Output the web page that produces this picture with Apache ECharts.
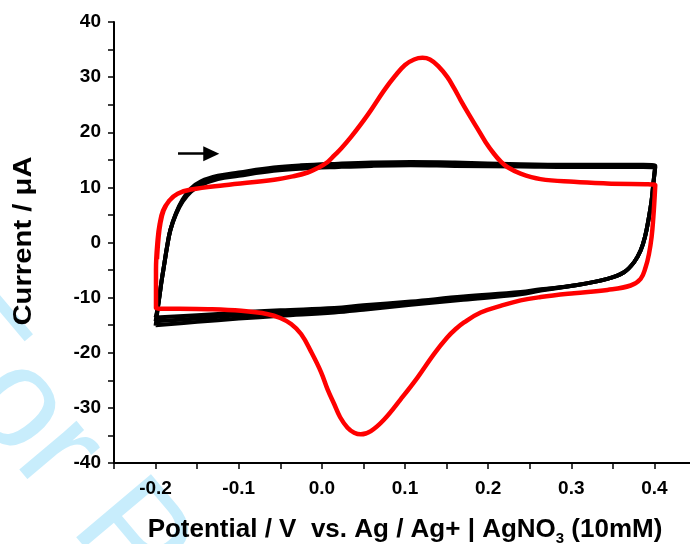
<!DOCTYPE html>
<html style="height: 100%">
<head>
<meta charset="utf-8">
</head>
<body style="height: 100%; margin: 0; background: #fff">
<div id="container" style="width: 690px; height: 544px"></div>
<script src="https://cdn.jsdelivr.net/npm/echarts@6/dist/echarts.min.js"></script>
<script>
// potential (V) / current (uA) pairs
var blackCycle1 = [
  [-0.2, -13.6], [-0.198, -12.3], [-0.1955, -9.9], [-0.1927, -6.9], [-0.1895, -3.9],
  [-0.1863, -0.9], [-0.1823, 2.2], [-0.1755, 5.3], [-0.1675, 7.8], [-0.1575, 9.8],
  [-0.1454, 11.1], [-0.125, 12.1], [-0.1, 12.7], [-0.058, 13.6], [-0.025, 14.0],
  [0.02, 14.3], [0.06, 14.5], [0.107, 14.6], [0.16, 14.5], [0.239, 14.2], [0.3, 14.1],
  [0.36, 14.1], [0.401, 14.0], [0.3987, 10.7], [0.3966, 7.6], [0.3934, 4.6], [0.3886, 1.0],
  [0.3834, -1.45], [0.3754, -3.6], [0.3634, -5.4], [0.3434, -6.6], [0.3033, -7.8],
  [0.2632, -8.5], [0.239, -9.0], [0.17, -9.8], [0.107, -10.7], [0.05, -11.4],
  [0.015, -11.9], [-0.05, -12.3], [-0.1, -12.7], [-0.15, -13.2], [-0.2, -13.6]
];
var blackCycle2 = [
  [-0.2, -14.3], [-0.198, -12.5], [-0.1955, -9.9], [-0.1927, -6.9], [-0.1895, -3.9],
  [-0.1863, -0.9], [-0.1823, 2.2], [-0.1755, 5.2], [-0.1675, 7.6], [-0.1575, 9.5],
  [-0.1454, 10.7], [-0.125, 11.8], [-0.1, 12.4], [-0.058, 13.3], [-0.025, 13.7],
  [0.02, 14.0], [0.06, 14.2], [0.107, 14.3], [0.16, 14.2], [0.239, 14.0], [0.3, 13.9],
  [0.36, 13.9], [0.401, 13.8], [0.3987, 10.7], [0.3966, 7.6], [0.3934, 4.6], [0.3886, 1.0],
  [0.3834, -1.45], [0.3754, -3.6], [0.3634, -5.4], [0.3434, -6.6], [0.3033, -7.8],
  [0.2632, -8.6], [0.239, -9.2], [0.17, -10.1], [0.107, -11.0], [0.05, -11.8],
  [0.015, -12.3], [-0.05, -12.8], [-0.1, -13.2], [-0.15, -13.8], [-0.2, -14.3]
];
var blackCycle3 = [
  [-0.2, -15.1], [-0.198, -12.8], [-0.1955, -10.0], [-0.1927, -6.9], [-0.1895, -3.9],
  [-0.1863, -0.9], [-0.1823, 2.2], [-0.1755, 5.1], [-0.1675, 7.4], [-0.1575, 9.2],
  [-0.1454, 10.4], [-0.125, 11.5], [-0.1, 12.1], [-0.058, 13.0], [-0.025, 13.4],
  [0.02, 13.7], [0.06, 13.9], [0.107, 14.0], [0.16, 13.9], [0.239, 13.8], [0.3, 13.7],
  [0.36, 13.7], [0.401, 13.6], [0.3987, 10.7], [0.3966, 7.6], [0.3934, 4.6], [0.3886, 1.0],
  [0.3834, -1.45], [0.3754, -3.6], [0.3634, -5.4], [0.3434, -6.6], [0.3033, -7.8],
  [0.2632, -8.7], [0.239, -9.4], [0.17, -10.4], [0.107, -11.3], [0.05, -12.2],
  [0.015, -12.7], [-0.05, -13.3], [-0.1, -13.8], [-0.15, -14.4], [-0.2, -15.0]
];
var redCurve = [
  [-0.1983, -3.0], [-0.1967, 0.4], [-0.1943, 3.4], [-0.1903, 5.8], [-0.1835, 7.6],
  [-0.1735, 8.85], [-0.1575, 9.6], [-0.1174, 10.4], [-0.0573, 11.4], [-0.035, 12.0],
  [-0.017, 12.7], [-0.005, 13.5], [0.007, 14.6], [0.015, 15.8], [0.0235, 17.1],
  [0.0349, 19.1], [0.0549, 23.1], [0.0749, 27.6], [0.088, 30.2], [0.1, 32.2],
  [0.111, 33.2], [0.121, 33.5], [0.13, 33.2], [0.14, 32.0], [0.151, 30.0], [0.159, 28.0],
  [0.167, 25.8], [0.177, 23.2], [0.187, 20.7], [0.197, 18.2], [0.207, 16.1], [0.215, 14.7],
  [0.223, 13.7], [0.239, 12.5], [0.263, 11.5], [0.303, 11.0], [0.343, 10.7], [0.401, 10.4],
  [0.4, 7.6], [0.3987, 4.6], [0.3966, 1.0], [0.3934, -2.1], [0.3894, -4.5], [0.3834, -6.6],
  [0.3714, -7.8], [0.3434, -8.6], [0.3033, -9.2], [0.2632, -9.9], [0.239, -10.5],
  [0.215, -11.5], [0.191, -12.7], [0.171, -14.5], [0.161, -15.7], [0.151, -17.2],
  [0.135, -20.2], [0.115, -24.5], [0.095, -28.4], [0.0749, -32.1], [0.0589, -34.2],
  [0.0469, -34.8], [0.0389, -34.5], [0.0309, -33.6], [0.022, -31.7], [0.0148, -29.3],
  [0.007, -26.7], [-0.001, -23.5], [-0.013, -19.8], [-0.025, -16.6], [-0.037, -14.8],
  [-0.05, -13.7], [-0.065, -13.0], [-0.097, -12.4], [-0.137, -12.1], [-0.1995, -11.9],
  [-0.1995, -5.0], [-0.1975, 0.5], [-0.195, 3.4], [-0.191, 5.8], [-0.1835, 7.6]
];
// scan direction arrow (start, end) in data units
var arrowFrom = [-0.173, 16.1];
var arrowTo = [-0.133, 16.1];

var FONT = 'Liberation Sans, Arial, sans-serif';

var dom = document.getElementById('container');
var myChart = echarts.init(dom, null, { renderer: 'canvas' });

function blackSeries(data) {
  return {
    type: 'line',
    data: data,
    showSymbol: false,
    smooth: 0.4,
    silent: true,
    z: 3,
    lineStyle: { color: '#000', width: 4, join: 'round' }
  };
}

var option = {
  animation: false,
  backgroundColor: '#fff',
  grid: { left: 114, top: 22, width: 582, height: 441, outerBoundsMode: 'none' },
  graphic: [{
    type: 'text',
    x: -64,
    y: 310,
    rotation: -0.87,
    z: -10,
    silent: true,
    style: {
      text: 'For P',
      fontFamily: FONT,
      fontSize: 142,
      fill: '#c8edfc',
      align: 'left',
      verticalAlign: 'middle'
    }
  }, {
    type: 'text',
    x: 24,
    y: 241,
    rotation: Math.PI / 2,
    scaleX: 1.17,
    silent: true,
    style: {
      text: 'Current / \u03bcA',
      fontFamily: FONT,
      fontSize: 25,
      fontWeight: 'bold',
      fill: '#000',
      align: 'center',
      verticalAlign: 'middle'
    }
  }],
  xAxis: {
    type: 'value',
    min: -0.25,
    max: 0.45,
    interval: 0.05,
    name: 'Potential / V  vs. Ag / Ag+ | AgNO{sub|3} (10mM)',
    nameLocation: 'middle',
    nameGap: 51,
    nameTextStyle: {
      fontFamily: FONT, fontSize: 26, fontWeight: 'bold', color: '#000',
      rich: {
        sub: { fontFamily: FONT, fontSize: 15, fontWeight: 'bold', color: '#000', padding: [17, 0, 0, 0] }
      }
    },
    splitLine: { show: false },
    axisLine: { onZero: false, lineStyle: { color: '#000', width: 2 } },
    axisTick: { length: 6, lineStyle: { color: '#000', width: 1.5 } },
    axisLabel: {
      margin: 16,
      fontFamily: FONT, fontSize: 19, fontWeight: 'bold', color: '#000',
      formatter: function (v) {
        var k = Math.round(v * 100);
        if (k % 10 !== 0 || k < -20 || k > 40) return '';
        return (k / 100).toFixed(1);
      }
    }
  },
  yAxis: {
    type: 'value',
    min: -40,
    max: 40,
    interval: 5,
    splitLine: { show: false },
    axisLine: { show: true, onZero: false, lineStyle: { color: '#000', width: 2 } },
    axisTick: { show: true, length: 6, lineStyle: { color: '#000', width: 1.5 } },
    axisLabel: {
      margin: 13,
      fontFamily: FONT, fontSize: 19, fontWeight: 'bold', color: '#000',
      formatter: function (v) {
        return (Math.round(v) % 10 === 0) ? String(Math.round(v)) : '';
      }
    }
  },
  series: [
    blackSeries(blackCycle1),
    blackSeries(blackCycle2),
    blackSeries(blackCycle3),
    {
      type: 'line',
      data: redCurve,
      showSymbol: false,
      smooth: 0.4,
      silent: true,
      z: 4,
      lineStyle: { color: '#ff0000', width: 4.5, join: 'round' },
      markLine: {
        silent: true,
        symbol: ['none', 'triangle'],
        symbolSize: [15, 16],
        label: { show: false },
        lineStyle: { color: '#000', width: 2.5, type: 'solid' },
        data: [[{ coord: arrowFrom }, { coord: arrowTo }]]
      }
    }
  ]
};

myChart.setOption(option);
</script>
</body>
</html>
